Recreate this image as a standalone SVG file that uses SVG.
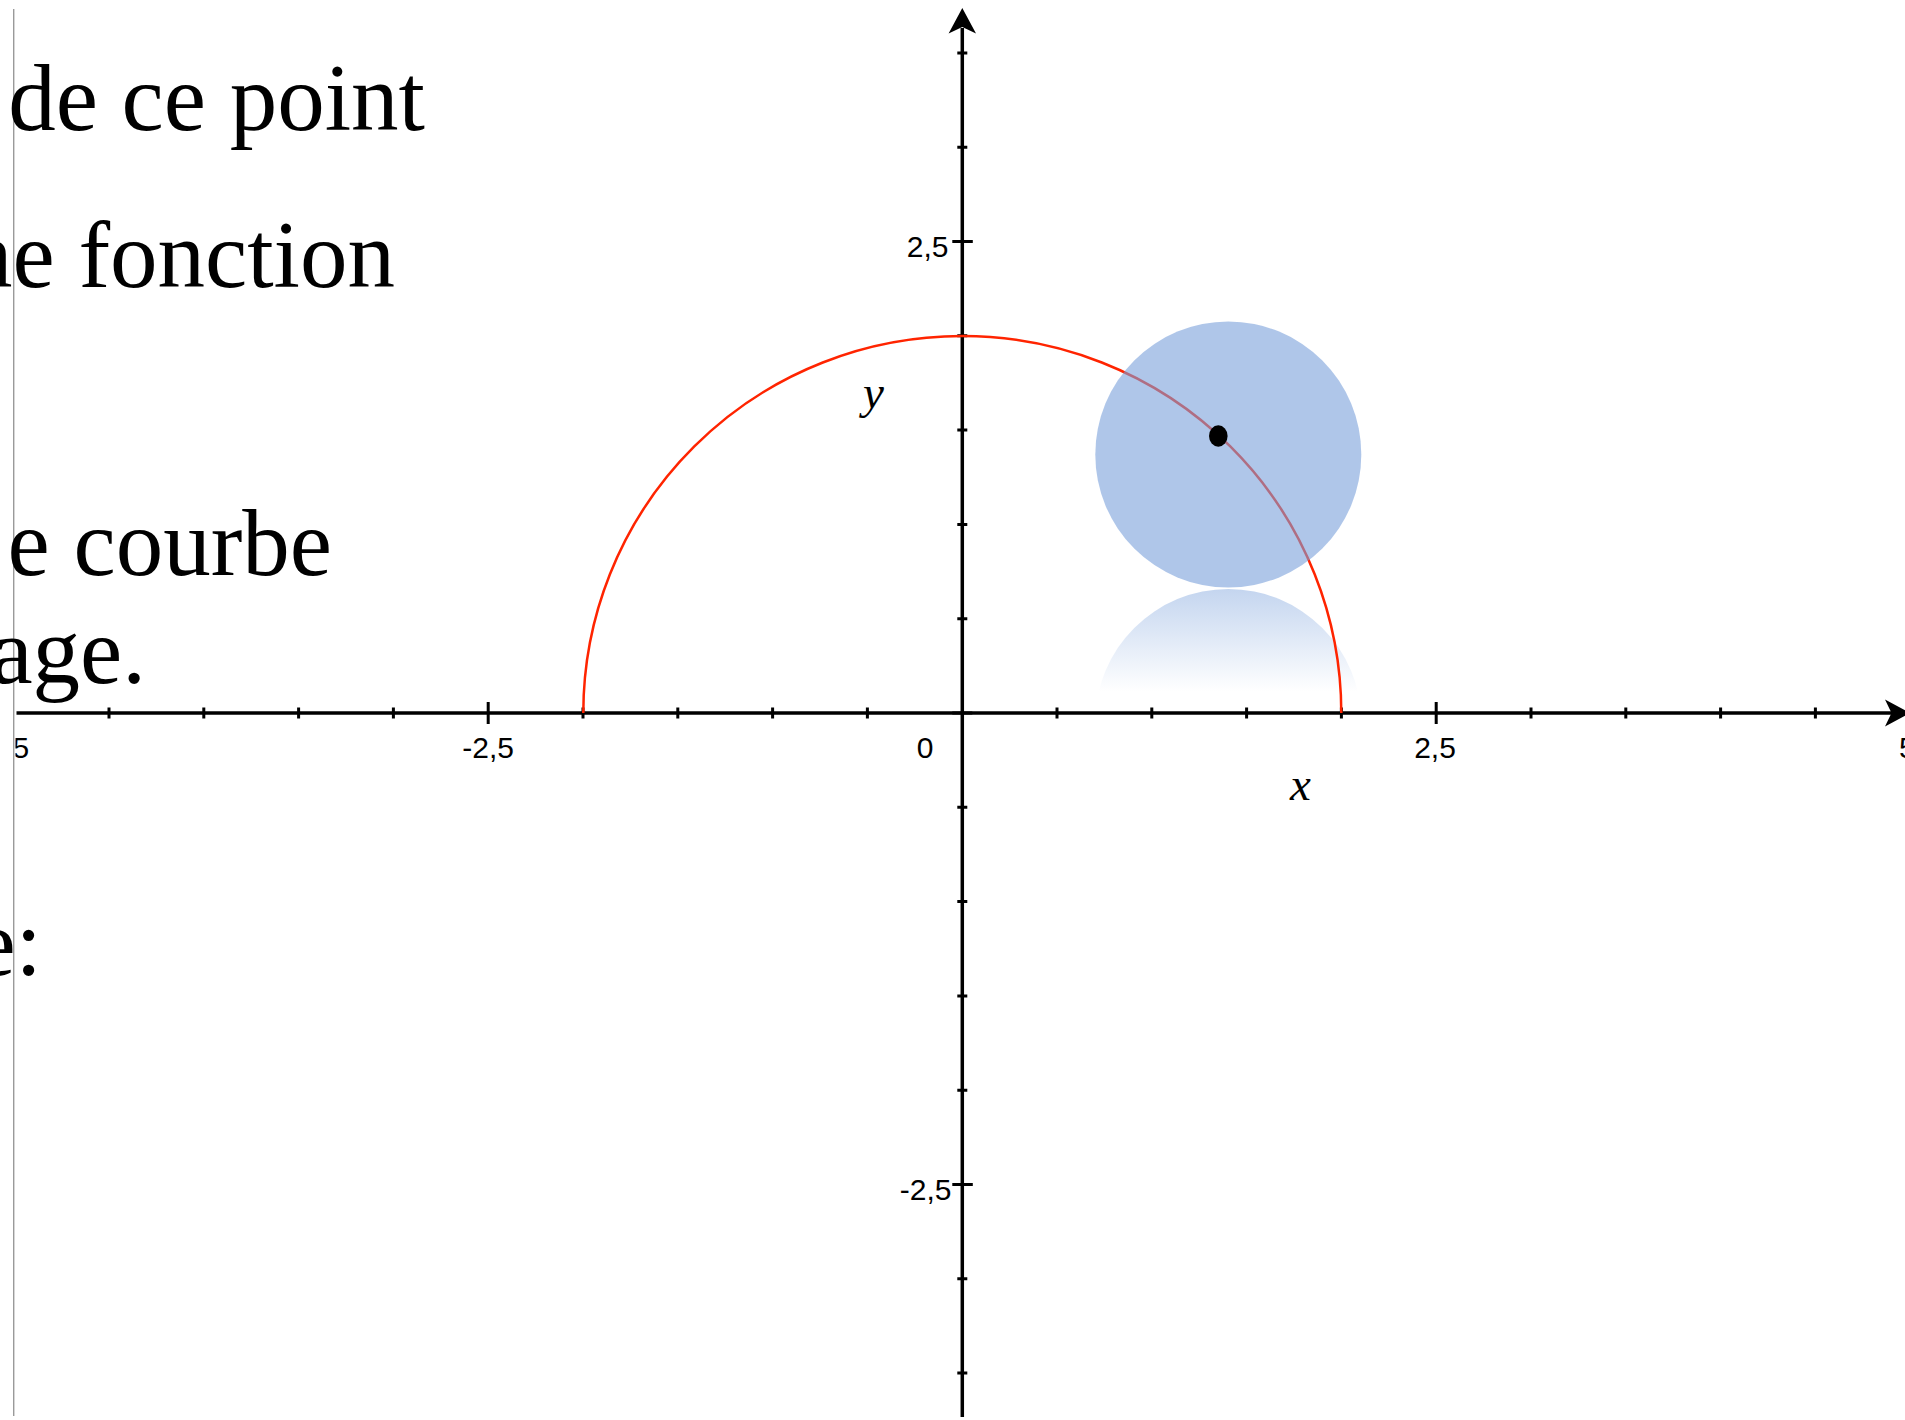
<svg xmlns="http://www.w3.org/2000/svg" width="1905" height="1420" viewBox="0 0 1905 1420">
  <style>
    .axis { stroke: #000; stroke-width: 3.5; fill: none; }
    .tick { stroke: #000; stroke-width: 3; fill: none; }
    .num { font-family: "Liberation Sans", Arial, sans-serif; font-size: 30px; fill: #000; }
    .var { font-family: "Liberation Serif", "Times New Roman", serif; font-style: italic; font-size: 47px; fill: #000; }
    .body { font-family: "Liberation Serif", "Times New Roman", serif; font-size: 95px; fill: #000; }
  </style>
  <defs>
    <linearGradient id="reflGrad" gradientUnits="userSpaceOnUse" x1="0" y1="589" x2="0" y2="692">
      <stop offset="0" stop-color="#ADC5E9" stop-opacity="0.72"/>
      <stop offset="1" stop-color="#ADC5E9" stop-opacity="0"/>
    </linearGradient>
    <clipPath id="reflClip">
      <rect x="1080" y="588" width="300" height="104"/>
    </clipPath>
    <clipPath id="plotClip">
      <rect x="15.5" y="0" width="1890" height="1420"/>
    </clipPath>
  </defs>

  <rect x="0" y="0" width="1905" height="1420" fill="#fff"/>

  <!-- page border line -->
  <line id="border" x1="13.7" y1="9" x2="13.7" y2="1416" stroke="#9a9a9a" stroke-width="1.4"/>

  <g id="reflection" clip-path="url(#reflClip)">
    <circle cx="1228.3" cy="722" r="133" fill="url(#reflGrad)"/>
  </g>

  <g id="axes">
    <line class="axis" x1="16.5" y1="713" x2="1892" y2="713"/>
    <line class="axis" x1="962.3" y1="1417" x2="962.3" y2="28"/>
    <path d="M1910 713 L1885 699.5 L1891.5 713 L1885 726.5 Z" fill="#000"/>
    <path d="M962.3 8 L976 33.5 L962.3 27 L948.6 33.5 Z" fill="#000"/>
    <path class="tick" d="M109 707.5V718.5 M203.8 707.5V718.5 M298.6 707.5V718.5 M393.4 707.5V718.5 M583 707.5V718.5 M677.8 707.5V718.5 M772.6 707.5V718.5 M867.4 707.5V718.5 M1057 707.5V718.5 M1151.8 707.5V718.5 M1246.6 707.5V718.5 M1341.4 707.5V718.5 M1531 707.5V718.5 M1625.8 707.5V718.5 M1720.6 707.5V718.5 M1815.4 707.5V718.5"/>
    <path class="tick" d="M488.2 702V724 M1436.2 702V724"/>
    <path class="tick" d="M957.3 52.9H967.3 M957.3 147.2H967.3 M957.3 335.8H967.3 M957.3 430.1H967.3 M957.3 524.4H967.3 M957.3 618.7H967.3 M952.3 713H972.3 M957.3 807.3H967.3 M957.3 901.6H967.3 M957.3 995.9H967.3 M957.3 1090.2H967.3 M957.3 1278.8H967.3 M957.3 1373.1H967.3"/>
    <path class="tick" d="M952.3 241.5H972.8 M952.3 1184.5H972.8"/>
  </g>

  <g id="axis-labels">
    <g clip-path="url(#plotClip)">
      <text class="num" x="12.5" y="758">5</text>
    </g>
    <text class="num" x="488.2" y="758" text-anchor="middle">-2,5</text>
    <text class="num" x="925" y="758" text-anchor="middle">0</text>
    <text class="num" x="1435" y="758" text-anchor="middle">2,5</text>
    <text class="num" x="1899" y="758">5</text>
    <text class="num" x="948.5" y="257" text-anchor="end">2,5</text>
    <text class="num" x="951.5" y="1200" text-anchor="end">-2,5</text>
    <text class="var" x="1290" y="800">x</text>
    <text class="var" x="863" y="407.5">y</text>
  </g>

  <g id="curve">
    <path d="M583.3 713 A379 377 0 0 1 1341.3 713" fill="none" stroke="#FF2400" stroke-width="2.5"/>
  </g>

  <g id="disk">
    <circle cx="1228.3" cy="454.5" r="133" fill="#7AA0DA" fill-opacity="0.6"/>
  </g>

  <g id="point">
    <ellipse cx="1218.3" cy="436" rx="9.3" ry="10.7" fill="#000"/>
  </g>

  <g id="page-text">
    <text class="body" x="425" y="130" text-anchor="end">de ce point</text>
    <text class="body" x="395" y="287" text-anchor="end">ne fonction</text>
    <text class="body" x="332" y="575" text-anchor="end">e courbe</text>
    <text class="body" x="146" y="683" text-anchor="end">age.</text>
    <text class="body" x="42" y="975" text-anchor="end">e:</text>
  </g>
</svg>
